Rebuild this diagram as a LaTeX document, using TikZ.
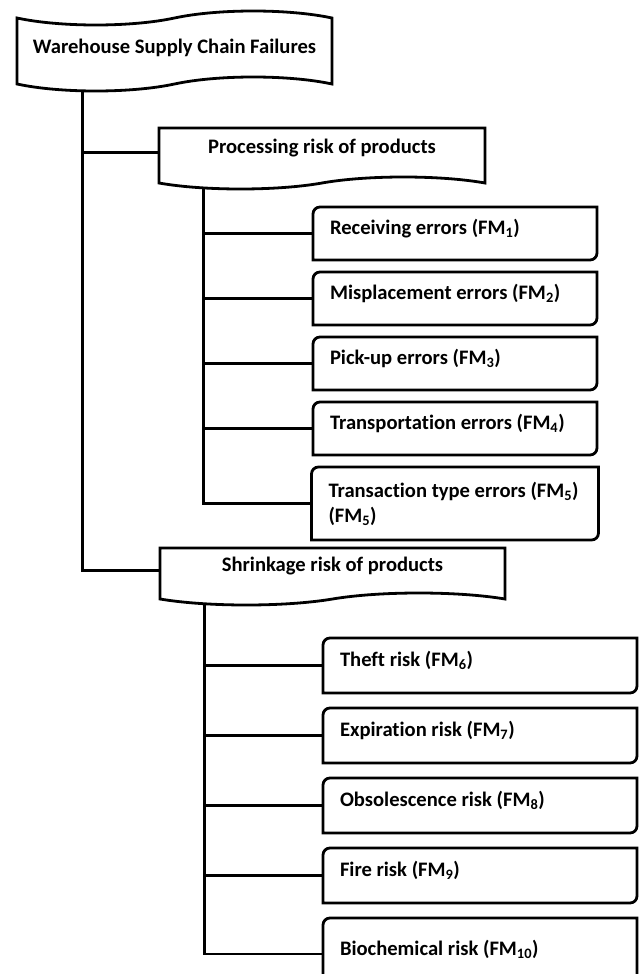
\documentclass[tikz,border=0pt]{standalone}
\usepackage{fontspec}
\setmainfont{Carlito}[Ligatures=NoCommon]
\usetikzlibrary{shapes.symbols, positioning, backgrounds}
\tikzset{
  boxfont/.style={font=\bfseries\fontsize{20.6}{25}\selectfont, text height=14pt, text depth=12pt},
  rootbox/.style={tape, draw, fill=white, line width=2.8pt, tape bend top=in and out, tape bend bottom=in and out, tape bend height=14pt, minimum width=315pt, minimum height=80pt, boxfont},
  groupbox/.style={tape, draw, fill=white, line width=2.8pt, tape bend top=none, tape bend bottom=in and out, tape bend height=12pt, minimum height=61pt, boxfont},
  failbox/.style={rectangle, outer sep=0pt, inner xsep=17pt, minimum height=53pt, text width=250pt, align=flush left, anchor=north west, boxfont, execute at begin node={\spaceskip=0pt\xspaceskip=0pt}},
  boxline/.style={line width=2.8pt},
  link/.style={line width=2.8pt}
}

\begin{document}
\begin{tikzpicture}[x=1pt, y=1pt]
  \useasboundingbox (0,0) rectangle (640,-974);

  \node[rootbox, text depth=9pt] (top) at (174.5,-51) {Warehouse Supply Chain Failures};
  \node[groupbox, minimum width=326pt] (proc) at (322,-152.5) {Processing risk of products};
  \node[groupbox, minimum width=345pt, minimum height=57pt] (shrink) at (332.5,-570.5) {Shrinkage risk of products};

  % processing failures
  \node[failbox] (fm1) at (313,-207) {Receiving errors (FM\textsubscript{1})};
  \node[failbox, below=12pt of fm1] (fm2) {Misplacement errors (FM\textsubscript{2})};
  \node[failbox, below=12pt of fm2] (fm3) {Pick-up errors (FM\textsubscript{3})};
  \node[failbox, below=12pt of fm3] (fm4) {Transportation errors (FM\textsubscript{4})};
  \node[failbox, below=12pt of fm4, text width=253pt, minimum height=73pt, text height=, text depth=] (fm5) {Transaction type errors (FM\textsubscript{5})\\(FM\textsubscript{5})};

  % shrinkage failures
  \node[failbox, text width=280pt, minimum height=55pt] (fm6) at (323,-638) {Theft risk (FM\textsubscript{6})};
  \node[failbox, text width=280pt, minimum height=55pt, below=15pt of fm6] (fm7) {Expiration risk (FM\textsubscript{7})};
  \node[failbox, text width=280pt, minimum height=55pt, below=15pt of fm7] (fm8) {Obsolescence risk (FM\textsubscript{8})};
  \node[failbox, text width=280pt, minimum height=55pt, below=15pt of fm8] (fm9) {Fire risk (FM\textsubscript{9})};
  \node[failbox, text width=280pt, minimum height=72pt, below=15pt of fm9] (fm10) {Biochemical risk (FM\textsubscript{10})};

  \foreach \n in {fm1,fm2,fm3,fm4,fm5,fm6,fm7,fm8,fm9,fm10}
    \draw[boxline] (\n.south west) -- ([yshift=-7pt]\n.north west) arc[start angle=180, end angle=90, radius=7pt]
      -- (\n.north east) -- ([yshift=7pt]\n.south east) arc[start angle=0, end angle=-90, radius=7pt] -- cycle;

  \begin{scope}[on background layer]
    \coordinate (trunk) at ([xshift=67pt]top.south west);
    \draw[link] (trunk) |- (shrink.west);
    \draw[link] (trunk |- proc.west) -- (proc.west);

    \coordinate (procstem) at ([xshift=46pt]proc.south west);
    \draw[link] (procstem) |- (fm5.west);
    \foreach \n in {fm1,fm2,fm3,fm4}
      \draw[link] (procstem |- \n.west) -- (\n.west);

    \coordinate (shrinkstem) at ([xshift=46pt]shrink.south west);
    \draw[link] (shrinkstem) |- (fm10.west);
    \foreach \n in {fm6,fm7,fm8,fm9}
      \draw[link] (shrinkstem |- \n.west) -- (\n.west);
  \end{scope}
\end{tikzpicture}
\end{document}
